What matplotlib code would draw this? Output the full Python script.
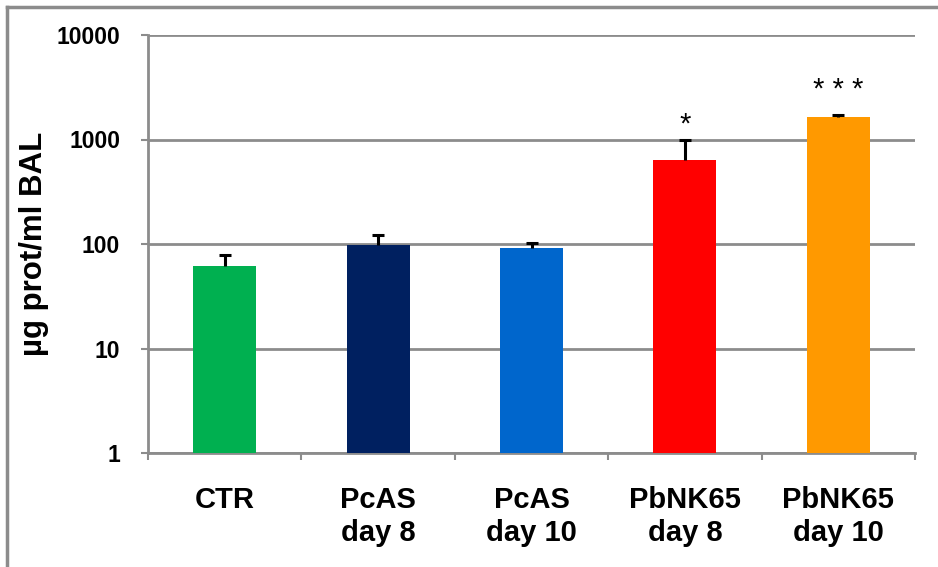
import matplotlib
matplotlib.use("Agg")
import matplotlib.pyplot as plt
from matplotlib.lines import Line2D
import numpy as np

categories = ["CTR", "PcAS\nday 8", "PcAS\nday 10", "PbNK65\nday 8", "PbNK65\nday 10"]
values = [61.5, 98.5, 91.6, 637, 1640]
errors = [17, 23, 10, 352, 80]
colors = ["#00B050", "#002060", "#0066CC", "#FF0000", "#FF9900"]
stars = ["", "", "", "*", "* * *"]
yticks = [1, 10, 100, 1000, 10000]
yticklabels = ["1", "10", "100", "1000", "10000"]

W, H = 938, 567
fig = plt.figure(figsize=(W / 100, H / 100), dpi=100)
ax = fig.add_axes([148 / W, (H - 453) / H, (915 - 148) / W, (453 - 35) / H])

font = "Liberation Sans"
grey = "#8c8c8c"

x = np.arange(len(categories))
vals = np.array(values)
errs = np.array(errors)
ax.bar(x, vals, width=0.41, color=colors, zorder=3)
ax.vlines(x, vals, vals + errs, color="black", lw=2.2, zorder=4)
ax.plot(x, vals + errs, ls="none", marker="_", markersize=9, mew=2.2,
        color="black", zorder=4)

for xi, v, e, s in zip(x, vals, errs, stars):
    if s:
        ax.annotate(s, xy=(xi, v + e), xytext=(0, 11 if len(s) == 1 else 18),
                    textcoords="offset points", ha="center", va="center",
                    fontsize=21, family=font)

ax.set_yscale("log")
ax.set_ylim(1, 10000)
ax.set_xlim(-0.5, len(categories) - 0.5)
ax.set_yticks(yticks)
ax.set_yticklabels(yticklabels, fontsize=16.5, fontweight="bold", family=font)
ax.yaxis.set_minor_locator(matplotlib.ticker.NullLocator())
ax.set_xticks(x)
ax.set_xticklabels(categories, fontsize=21, fontweight="bold", family=font,
                   va="top", linespacing=1.2)
ax.set_xticks(np.arange(len(categories) + 1) - 0.5, minor=True)
ax.tick_params(axis="x", which="major", length=0, pad=24)
ax.tick_params(axis="x", which="minor", length=5, width=1.5, color=grey)
ax.tick_params(axis="y", which="major", length=5, width=1.5, color=grey, pad=15)

ax.grid(axis="y", which="major", color=grey, linewidth=2, zorder=0)
ax.set_axisbelow(True)
for side in ["top", "right"]:
    ax.spines[side].set_visible(False)
for side in ["left", "bottom"]:
    ax.spines[side].set_color(grey)
    ax.spines[side].set_linewidth(2)

ax.set_ylabel("µg prot/ml BAL", fontsize=22.5, fontweight="bold", family=font)
ax.yaxis.set_label_coords((49 - 148) / (915 - 148), 0.5)

# figure border
fig.add_artist(Line2D([7 / W, 1], [1 - 7 / H, 1 - 7 / H], color=grey, lw=2.5,
                      transform=fig.transFigure))
fig.add_artist(Line2D([7 / W, 7 / W], [0, 1 - 7 / H], color=grey, lw=2.5,
                      transform=fig.transFigure))

fig.savefig("out.png", dpi=100)
